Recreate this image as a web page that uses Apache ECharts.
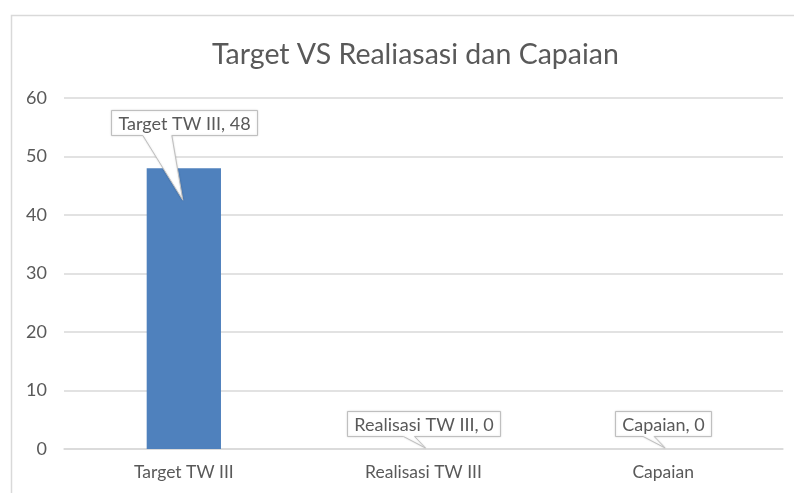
<!DOCTYPE html>
<html>
<head>
<meta charset="utf-8">
<script src="https://cdn.jsdelivr.net/npm/echarts@6/dist/echarts.min.js"></script>
<style>
  html, body { margin: 0; padding: 0; background: #fff; }
  #chart { width: 794px; height: 493px; }
</style>
</head>
<body>
<div id="chart"></div>
<script>
// data
const chartTitle = 'Target VS Realiasasi dan Capaian'
const categories = ['Target TW III', 'Realisasi TW III', 'Capaian']
const values = [48, 0, 0]
const yTicks = [0, 10, 20, 30, 40, 50, 60]

const FONT = 'Lato, "Open Sans", sans-serif'
const TEXT = '#595959'
const LINE = '#d9d9d9'
const LABEL_SIZE = 18

const myChart = echarts.init(document.getElementById('chart'))

myChart.setOption({
  animation: false,
  title: {
    text: chartTitle,
    left: 207,
    top: 35,
    textStyle: { color: TEXT, fontFamily: FONT, fontWeight: 'normal', fontSize: 28.5 },
  },
  grid: { left: 64, right: 11, top: 98, bottom: 44 },
  xAxis: {
    type: 'category',
    data: categories,
    axisLine: { lineStyle: { color: LINE, width: 1.5 } },
    axisTick: { show: false },
    axisLabel: { color: TEXT, fontFamily: FONT, fontSize: 17.5, margin: 14 },
  },
  yAxis: {
    type: 'value',
    min: yTicks[0],
    max: yTicks[yTicks.length - 1],
    interval: yTicks[1] - yTicks[0],
    axisLine: { show: false },
    axisTick: { show: false },
    axisLabel: { color: TEXT, fontFamily: FONT, fontSize: 18, margin: 17 },
    splitLine: { lineStyle: { color: LINE, width: 1.5 } },
  },
  series: [{
    type: 'bar',
    data: values,
    barWidth: '31%',
    itemStyle: { color: '#4f81bd' },
  }],
})

// Excel-like callout labels, placed from the chart's own scales
const measure = (txt) => {
  const ctx = document.createElement('canvas').getContext('2d')
  ctx.font = LABEL_SIZE + 'px ' + FONT
  return ctx.measureText(txt).width
}

const drawCallouts = () => {
  const graphics = [{
    type: 'rect',
    z: -10,
    silent: true,
    shape: { x: 11.5, y: 15.5, width: 820, height: 520 },
    style: { fill: 'none', stroke: LINE, lineWidth: 1.5 },
  }]
  for (let i = 0; i < categories.length; i++) {
    const [px, py] = myChart.convertToPixel({ gridIndex: 0 }, [i, values[i]])
    const txt = categories[i] + ', ' + values[i]
    const w = Math.round(measure(txt) + 14)
    const h = 25
    let bottom, tip, b0, b1
    if (values[i] > 0) {
      bottom = py - 33; tip = [px - 1, py + 32]; b0 = px - 41; b1 = px - 12
    } else {
      bottom = py - 13; tip = [px + 2, py - 1]; b0 = px - 20; b1 = px - 9
    }
    const l = Math.round(px - w / 2) + 0.5
    const r = l + w
    const t = Math.round(bottom - h) + 0.5
    const b = t + h
    graphics.push({
      type: 'polygon',
      z: 10,
      silent: true,
      shape: { points: [[l, t], [r, t], [r, b], [b1, b], tip, [b0, b], [l, b]] },
      style: { fill: '#fff', stroke: '#bfbfbf', lineWidth: 1, shadowBlur: 2, shadowColor: 'rgba(0,0,0,0.15)' },
    })
    graphics.push({
      type: 'text',
      z: 11,
      silent: true,
      x: (l + r) / 2,
      y: (t + b) / 2 + 1,
      style: {
        text: txt, fill: TEXT, font: LABEL_SIZE + 'px ' + FONT,
        align: 'center', verticalAlign: 'middle',
        textAlign: 'center', textVerticalAlign: 'middle',
      },
    })
  }
  myChart.setOption({ graphic: graphics })
}

drawCallouts()
</script>
</body>
</html>
